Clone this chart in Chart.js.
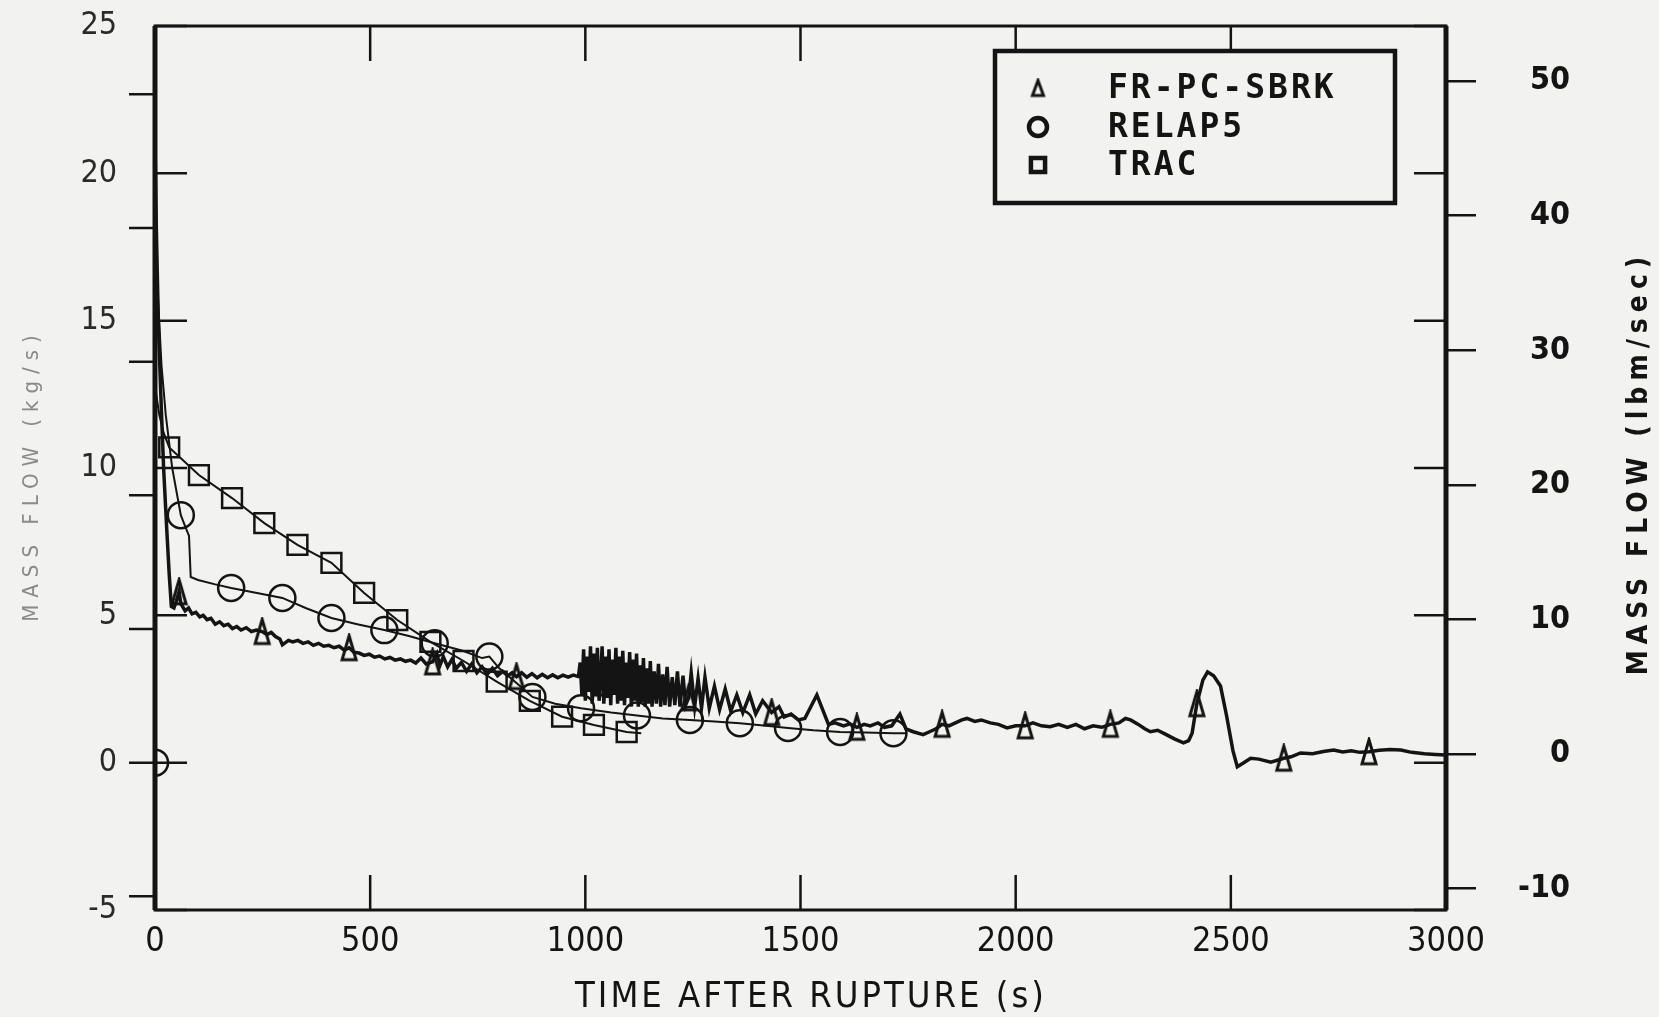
<!DOCTYPE html>
<html>
<head>
<meta charset="utf-8">
<script src="https://cdn.jsdelivr.net/npm/chart.js@4.4.1/dist/chart.umd.min.js"></script>
<style>
  html, body { margin: 0; padding: 0; background: #f2f2f0; }
</style>
</head>
<body>
<canvas id="flowChart" width="1659" height="1017"></canvas>
<script>
// values: time (s) / mass flow (kg/s)
var frTime = [
  0, 3, 8, 14, 20, 27, 33, 38, 44, 50,
  56, 60, 70, 78, 86, 95, 104, 112, 121, 130,
  140, 150, 160, 170, 180, 190, 200, 212, 224, 236,
  249, 260, 270, 280, 290, 296, 310, 320, 332, 344,
  356, 368, 380, 392, 404, 416, 428, 440, 451, 462,
  474, 486, 498, 510, 522, 534, 546, 558, 570, 582,
  594, 606, 618, 630, 645, 655, 662, 670, 680, 690,
  700, 712, 724, 736, 748, 760, 772, 784, 796, 808,
  820, 830, 840, 852, 864, 876, 888, 900, 912, 924,
  936, 948, 960, 972, 984, 988, 992, 996, 1000, 1004,
  1008, 1012, 1016, 1020, 1024, 1028, 1032, 1035, 1039, 1043,
  1047, 1051, 1055, 1059, 1063, 1067, 1071, 1075, 1079, 1083,
  1087, 1091, 1095, 1099, 1103, 1107, 1111, 1115, 1119, 1123,
  1127, 1131, 1135, 1139, 1143, 1147, 1151, 1155, 1160, 1165,
  1170, 1175, 1180, 1185, 1190, 1196, 1202, 1208, 1214, 1220,
  1227, 1233, 1240, 1246, 1254, 1262, 1270, 1278, 1288, 1300,
  1312, 1325, 1338, 1352, 1366, 1382, 1396, 1412, 1433, 1450,
  1462, 1478, 1495, 1510, 1538, 1565, 1580, 1600, 1615, 1631,
  1648, 1662, 1680, 1695, 1712, 1731, 1745, 1762, 1785, 1800,
  1815, 1829, 1845, 1860, 1875, 1887, 1905, 1920, 1941, 1960,
  1980, 2000, 2022, 2040, 2060, 2080, 2100, 2120, 2140, 2160,
  2180, 2200, 2220, 2240, 2255, 2267, 2285, 2300, 2313, 2330,
  2350, 2370, 2390, 2402, 2410, 2421, 2435, 2446, 2460, 2476,
  2490, 2505, 2515, 2530, 2546, 2565, 2593, 2623, 2640, 2662,
  2690, 2715, 2739, 2760, 2780, 2800, 2821, 2845, 2870, 2895,
  2920, 2950, 2975, 3000
];
var frFlow = [
  21.0, 18.2, 14.8, 12.3, 10.0, 8.0, 6.4, 5.3, 5.25, 5.5,
  5.8, 5.4, 5.15, 5.25, 5.05, 5.1, 4.95, 5.0, 4.85, 4.9,
  4.7, 4.78, 4.65, 4.7, 4.55, 4.62, 4.5, 4.58, 4.45, 4.5,
  4.45, 4.35, 4.42, 4.28, 4.2, 4.0, 4.15, 4.1, 4.15, 4.05,
  4.1, 3.98, 4.05, 3.95, 3.98, 3.9, 3.95, 3.82, 3.9, 3.75,
  3.72, 3.64, 3.68, 3.58, 3.62, 3.52, 3.57, 3.48, 3.52, 3.44,
  3.48, 3.38, 3.55, 3.35, 3.42, 3.7, 3.3, 3.6, 3.25, 3.5,
  3.2, 3.4, 3.1, 3.35, 3.05, 3.25, 3.0, 3.2, 2.95, 3.1,
  2.95, 3.05, 2.92, 3.05, 2.9, 3.02, 2.88, 3.0, 2.88, 2.98,
  2.88, 2.97, 2.9, 2.97, 2.92, 3.4, 2.3, 3.85, 2.1, 3.6,
  2.4, 3.95, 2.0, 3.7, 2.3, 3.9, 2.1, 2.7, 3.95, 2.0,
  3.6, 2.2, 3.85, 1.95, 3.5, 2.3, 3.9, 2.0, 3.6, 2.1,
  3.8, 1.95, 3.4, 2.2, 3.75, 1.9, 3.5, 2.1, 3.7, 1.9,
  3.3, 2.05, 3.55, 1.9, 3.2, 2.0, 3.45, 1.9, 3.1, 2.0,
  3.35, 1.9, 3.0, 1.95, 3.25, 1.9, 2.9, 1.95, 3.1, 1.9,
  2.95, 1.95, 2.2, 3.05, 1.9, 2.85, 1.85, 2.9, 1.85, 2.6,
  1.8, 2.5, 1.75, 2.3, 1.7, 2.3, 1.65, 2.1, 1.7, 1.9,
  1.55, 1.65, 1.45, 1.5, 2.3, 1.3, 1.35, 1.25, 1.32, 1.2,
  1.3, 1.25, 1.35, 1.2, 1.25, 1.65, 1.15, 1.05, 0.95, 1.05,
  1.15, 1.3, 1.25, 1.35, 1.45, 1.5, 1.4, 1.45, 1.35, 1.3,
  1.18, 1.25, 1.25, 1.35, 1.25, 1.22, 1.3, 1.2, 1.3, 1.15,
  1.25, 1.2, 1.3, 1.35, 1.5, 1.45, 1.3, 1.15, 1.05, 1.1,
  0.95, 0.8, 0.67, 0.75, 1.0, 2.0, 2.8, 3.08, 2.95, 2.6,
  1.6, 0.4, -0.14, 0.0, 0.15, 0.12, 0.02, 0.15, 0.2, 0.33,
  0.3, 0.38, 0.43, 0.36, 0.4, 0.35, 0.37, 0.42, 0.45, 0.43,
  0.35, 0.3, 0.28, 0.26
];
var frMarks = [56, 249, 451, 645, 840, 1035, 1240, 1433, 1631, 1829, 2022, 2220, 2421, 2623, 2821];

var relapTime = [0, 2, 8, 15, 25, 40, 60, 72, 79, 83, 100, 140, 177, 240, 296, 350, 410, 470, 533, 590,
  650, 715, 760, 777, 800, 840, 877, 930, 990, 1060, 1120, 1180, 1243, 1300, 1359, 1420, 1471, 1530, 1592, 1650,
  1716, 1745];
var relapFlow = [0, 17.0, 15.5, 13.5, 11.8, 10.0, 8.4, 7.95, 7.7, 6.3, 6.2, 6.05, 5.93, 5.75, 5.59, 5.25, 4.91, 4.7, 4.5, 4.3,
  4.05, 3.8, 3.55, 3.6, 3.2, 2.7, 2.23, 2.0, 1.85, 1.7, 1.6, 1.5, 1.45, 1.4, 1.34, 1.25, 1.18, 1.1, 1.04, 1.02,
  1.0, 1.0];
var relapMarks = [0, 60, 177, 296, 410, 533, 650, 777, 877, 990, 1120, 1243, 1359, 1471, 1592, 1716];

var tracTime = [0, 2, 10, 20, 33, 102, 179, 254, 331, 410, 486, 563, 640, 717, 794, 871, 946, 1020, 1096, 1130];
var tracFlow = [0, 12.6, 11.8, 11.2, 10.7, 9.76, 8.98, 8.13, 7.39, 6.78, 5.76, 4.84, 4.1, 3.45, 2.75, 2.1, 1.56, 1.28, 1.04, 1.0];
var tracMarks = [33, 102, 179, 254, 331, 410, 486, 563, 640, 717, 794, 871, 946, 1020, 1096];

var timeTicks = [0, 500, 1000, 1500, 2000, 2500, 3000];
var kgTicks = [-5, 0, 5, 10, 15, 20, 25];
var lbmTicks = [-10, 0, 10, 20, 30, 40, 50];
// right-hand scale as printed (lbm/sec at the bottom and top of the frame)
var lbmRange = [-11.6, 54.1];

var KG_TO_LBM = 2.2046;
var ink = '#141414';
var paper = '#f2f2f0';
var cond = '"DejaVu Sans Condensed", "Liberation Sans Narrow", "DejaVu Sans", sans-serif';

function pts(ts, vs) {
  return ts.map(function (t, i) { return { x: t, y: vs[i] }; });
}

function markAt(list, r) {
  return function (c) {
    return (c.raw && list.indexOf(c.raw.x) >= 0) ? r : 0;
  };
}

function noPad(s) {
  s.paddingTop = 0; s.paddingBottom = 0;
  s.paddingLeft = 0; s.paddingRight = 0;
}

// narrow plotter-style triangle used as point style
function makeTriangle(w, h, lw) {
  var c = document.createElement('canvas');
  c.width = w + lw * 2;
  c.height = h + lw * 2;
  var g = c.getContext('2d');
  g.strokeStyle = ink;
  g.lineWidth = lw;
  g.beginPath();
  g.moveTo(c.width / 2, lw);
  g.lineTo(c.width - lw, c.height - lw);
  g.lineTo(lw, c.height - lw);
  g.closePath();
  g.stroke();
  return c;
}
var triMark = makeTriangle(14, 24, 3);
var triLegend = makeTriangle(11, 15, 3);

var frame = {
  id: 'frame',
  afterDraw: function (chart) {
    var ctx = chart.ctx, a = chart.chartArea;
    var x = chart.scales.x, y = chart.scales.y;
    ctx.save();
    ctx.strokeStyle = ink;
    ctx.fillStyle = ink;

    // tick marks: kg inside, lbm outside on the left, time inside top and bottom
    ctx.lineWidth = 2.5;
    ctx.beginPath();
    kgTicks.forEach(function (v) {
      var py = y.getPixelForValue(v);
      ctx.moveTo(a.left, py); ctx.lineTo(a.left + 32, py);
      ctx.moveTo(a.right, py); ctx.lineTo(a.right - 32, py);
    });
    lbmTicks.forEach(function (v) {
      var py = y.getPixelForValue(v / KG_TO_LBM);
      ctx.moveTo(a.left - 26, py); ctx.lineTo(a.left, py);
    });
    timeTicks.slice(1, -1).forEach(function (t) {
      var px = x.getPixelForValue(t);
      ctx.moveTo(px, a.top); ctx.lineTo(px, a.top + 35);
      ctx.moveTo(px, a.bottom); ctx.lineTo(px, a.bottom - 35);
    });
    ctx.stroke();

    // plot frame
    ctx.lineWidth = 3;
    ctx.strokeRect(a.left, a.top, a.right - a.left, a.bottom - a.top);
    ctx.lineWidth = 5;
    ctx.beginPath();
    ctx.moveTo(a.left, a.top); ctx.lineTo(a.left, a.bottom);
    ctx.moveTo(a.right, a.top); ctx.lineTo(a.right, a.bottom);
    ctx.stroke();

    // legend box
    var bx = 995, by = 51, bw = 400, bh = 152;
    ctx.fillStyle = paper;
    ctx.fillRect(bx, by, bw, bh);
    ctx.lineWidth = 4.5;
    ctx.strokeRect(bx, by, bw, bh);
    ctx.font = 'bold 33px "DejaVu Sans Mono", monospace';
    ctx.letterSpacing = '3px';
    ctx.textAlign = 'left';
    ctx.textBaseline = 'middle';
    var rows = [88, 127, 165];
    chart.data.datasets.forEach(function (ds, i) {
      var ly = rows[i];
      if (ds.legendMark === 'triangle') {
        ctx.drawImage(triLegend, 1038 - triLegend.width / 2, ly - triLegend.height / 2);
      } else {
        ctx.fillStyle = paper;
        Chart.helpers.drawPoint(ctx, {
          pointStyle: ds.legendMark,
          radius: ds.legendMark === 'circle' ? 9 : 10,
          borderWidth: 3
        }, 1038, ly);
      }
      ctx.fillStyle = ink;
      ctx.fillText(ds.label, 1108, ly + 1);
    });

    // axis titles
    ctx.fillStyle = ink;
    ctx.textAlign = 'center';
    ctx.font = '36px ' + cond;
    ctx.letterSpacing = '3px';
    ctx.fillText('TIME AFTER RUPTURE (s)', 811, 998);

    ctx.save();
    ctx.translate(32, 475);
    ctx.rotate(-Math.PI / 2);
    ctx.fillStyle = '#8a8a8a';
    ctx.font = '22px ' + cond;
    ctx.letterSpacing = '7px';
    ctx.fillText('MASS FLOW (kg/s)', 0, 0);
    ctx.restore();

    ctx.save();
    ctx.translate(1640, 463);
    ctx.rotate(-Math.PI / 2);
    ctx.font = 'bold 28px ' + cond;
    ctx.letterSpacing = '6px';
    ctx.fillText('MASS FLOW (lbm/sec)', 0, 0);
    ctx.restore();

    ctx.letterSpacing = '0px';
    ctx.restore();
  }
};

var ctx = document.getElementById('flowChart').getContext('2d');
var myChart = new Chart(ctx, {
  type: 'line',
  data: {
    datasets: [{
      label: 'FR-PC-SBRK',
      legendMark: 'triangle',
      data: pts(frTime, frFlow),
      borderColor: ink,
      borderWidth: 3.5,
      pointStyle: triMark,
      pointRadius: markAt(frMarks, 10),
      pointBorderColor: ink,
      pointBackgroundColor: 'rgba(0,0,0,0)'
    }, {
      label: 'RELAP5',
      legendMark: 'circle',
      data: pts(relapTime, relapFlow),
      borderColor: ink,
      borderWidth: 2,
      pointStyle: 'circle',
      pointRadius: markAt(relapMarks, 13),
      pointBorderWidth: 2.5,
      pointBorderColor: ink,
      pointBackgroundColor: 'rgba(0,0,0,0)'
    }, {
      label: 'TRAC',
      legendMark: 'rect',
      data: pts(tracTime, tracFlow),
      borderColor: ink,
      borderWidth: 2,
      pointStyle: 'rect',
      pointRadius: markAt(tracMarks, 14),
      pointBorderWidth: 2.5,
      pointBorderColor: ink,
      pointBackgroundColor: 'rgba(0,0,0,0)'
    }]
  },
  options: {
    responsive: false,
    animation: false,
    events: [],
    layout: { padding: { top: 26, left: 0, right: 89, bottom: 0 } },
    plugins: {
      legend: { display: false },
      tooltip: { enabled: false }
    },
    scales: {
      x: {
        type: 'linear',
        min: 0,
        max: 3000,
        afterFit: function (s) { noPad(s); s.height = 107; },
        grid: { display: false, drawTicks: false },
        border: { display: false },
        ticks: {
          stepSize: 500,
          padding: 12,
          maxRotation: 0,
          color: ink,
          font: { family: cond, size: 34 },
          callback: function (v) { return String(v); }
        }
      },
      y: {
        position: 'left',
        min: kgTicks[0],
        max: kgTicks[kgTicks.length - 1],
        afterFit: function (s) { noPad(s); s.width = 155; },
        grid: { display: false, drawTicks: false },
        border: { display: false },
        ticks: {
          stepSize: 5,
          padding: 38,
          color: '#2a2a2a',
          font: { family: cond, size: 32 },
          callback: function (v) { return String(v); }
        }
      },
      y2: {
        position: 'right',
        min: lbmRange[0],
        max: lbmRange[1],
        afterFit: function (s) { noPad(s); s.width = 124; },
        grid: {
          display: true,
          drawOnChartArea: false,
          drawTicks: true,
          tickLength: 30,
          color: ink,
          lineWidth: 2.5
        },
        border: { display: false },
        ticks: {
          stepSize: 10,
          includeBounds: false,
          padding: 36,
          crossAlign: 'far',
          color: ink,
          font: { family: cond, size: 32, weight: 'bold' },
          callback: function (v) { return String(v); }
        }
      }
    }
  },
  plugins: [frame]
});
</script>
</body>
</html>
